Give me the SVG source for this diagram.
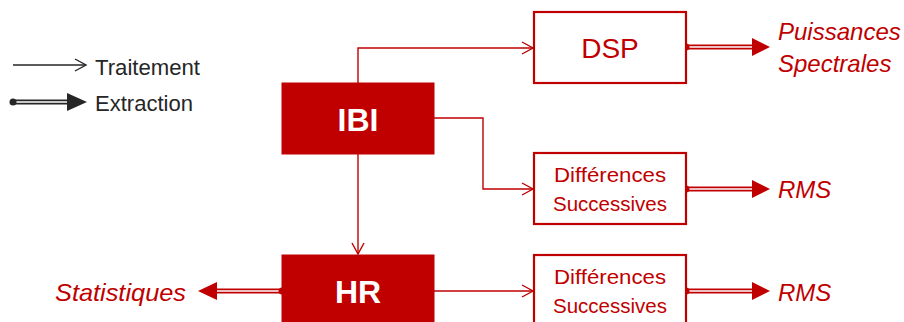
<svg xmlns="http://www.w3.org/2000/svg" width="904" height="322" viewBox="0 0 904 322">
<style>
.solid{fill:#C00000;stroke:#C00000;stroke-width:1}
.box{fill:#fff;stroke:#C00000;stroke-width:2.2}
.tw{font-family:"Liberation Sans",Arial,sans-serif;font-weight:bold;font-size:32px;fill:#fff;text-anchor:middle}
.tr{font-family:"Liberation Sans",Arial,sans-serif;font-size:21px;fill:#C00000;text-anchor:middle}
.out{font-family:"Liberation Sans",Arial,sans-serif;font-style:italic;font-size:24px;fill:#C00000}
.leg{font-family:"Liberation Sans",Arial,sans-serif;font-size:22px;fill:#262626}
.con{fill:none;stroke:#C00000;stroke-width:1.4}
.ext{fill:none;stroke:#C00000;stroke-width:5}
.exti{fill:none;stroke:#fff;stroke-width:1.6}
.tri{fill:#C00000}
</style>
<defs>
<marker id="openR" markerUnits="userSpaceOnUse" markerWidth="14" markerHeight="14" refX="11" refY="6" orient="auto" overflow="visible">
<path d="M0,0 L11,6 L0,12" fill="none" stroke="#C00000" stroke-width="1.4"/>
</marker>
<marker id="openK" markerUnits="userSpaceOnUse" markerWidth="14" markerHeight="14" refX="11" refY="6" orient="auto" overflow="visible">
<path d="M0,0 L11,6 L0,12" fill="none" stroke="#262626" stroke-width="1.4"/>
</marker>
</defs>

<g id="legend">
<line x1="13" y1="65" x2="86" y2="65" stroke="#262626" stroke-width="1.4" marker-end="url(#openK)"/>
<text class="leg" x="95" y="75" textLength="105" lengthAdjust="spacingAndGlyphs">Traitement</text>
<line x1="13" y1="102" x2="68" y2="102" stroke="#262626" stroke-width="5"/>
<line x1="15" y1="102" x2="68" y2="102" stroke="#fff" stroke-width="1.6"/>
<circle cx="13" cy="102" r="3.5" fill="#262626"/>
<polygon points="67,93 87,102 67,111" fill="#262626"/>
<text class="leg" x="95" y="111" textLength="98" lengthAdjust="spacingAndGlyphs">Extraction</text>
</g>

<g id="connectors">
<path class="con" d="M358,83 V48 H533" marker-end="url(#openR)"/>
<path class="con" d="M434,118 H483 V189 H533" marker-end="url(#openR)"/>
<path class="con" d="M358,154 V254" marker-end="url(#openR)"/>
<path class="con" d="M434,291 H533" marker-end="url(#openR)"/>

<g id="ext-dsp">
<line class="ext" x1="686" y1="47" x2="753" y2="47"/>
<line class="exti" x1="689" y1="47" x2="753" y2="47"/>
<circle cx="686" cy="47" r="3.5" fill="#C00000"/>
<polygon class="tri" points="752,38 770,47 752,56"/>
</g>
<g id="ext-diff1">
<line class="ext" x1="686" y1="189" x2="753" y2="189"/>
<line class="exti" x1="689" y1="189" x2="753" y2="189"/>
<circle cx="686" cy="189" r="3.5" fill="#C00000"/>
<polygon class="tri" points="752,180 770,189 752,198"/>
</g>
<g id="ext-diff2">
<line class="ext" x1="686" y1="291" x2="753" y2="291"/>
<line class="exti" x1="689" y1="291" x2="753" y2="291"/>
<circle cx="686" cy="291" r="3.5" fill="#C00000"/>
<polygon class="tri" points="752,282 770,291 752,300"/>
</g>
<g id="ext-hr">
<line class="ext" x1="282" y1="291" x2="216" y2="291"/>
<line class="exti" x1="279" y1="291" x2="216" y2="291"/>
<circle cx="282" cy="291" r="3.5" fill="#C00000"/>
<polygon class="tri" points="217,282 198,291 217,300"/>
</g>
</g>

<g id="IBI">
<rect class="solid" x="282" y="83" width="152" height="71"/>
<text class="tw" x="358" y="131">IBI</text>
</g>
<g id="HR">
<rect class="solid" x="282" y="255" width="152" height="71"/>
<text class="tw" x="358" y="303">HR</text>
</g>
<g id="DSP">
<rect class="box" x="534" y="12" width="152" height="71"/>
<text class="tr" x="610" y="58" style="font-size:28px">DSP</text>
</g>
<g id="Diff1">
<rect class="box" x="534" y="153" width="152" height="71"/>
<text class="tr" x="610" y="182" textLength="112" lengthAdjust="spacingAndGlyphs">Différences</text>
<text class="tr" x="610" y="211" textLength="114" lengthAdjust="spacingAndGlyphs">Successives</text>
</g>
<g id="Diff2">
<rect class="box" x="534" y="255" width="152" height="71"/>
<text class="tr" x="610" y="284" textLength="112" lengthAdjust="spacingAndGlyphs">Différences</text>
<text class="tr" x="610" y="313" textLength="114" lengthAdjust="spacingAndGlyphs">Successives</text>
</g>

<g id="outputs">
<text class="out" x="778" y="40">Puissances</text>
<text class="out" x="778" y="72">Spectrales</text>
<text class="out" x="778" y="198">RMS</text>
<text class="out" x="778" y="301">RMS</text>
<text class="out" x="55" y="301" textLength="131" lengthAdjust="spacingAndGlyphs">Statistiques</text>
</g>
</svg>
